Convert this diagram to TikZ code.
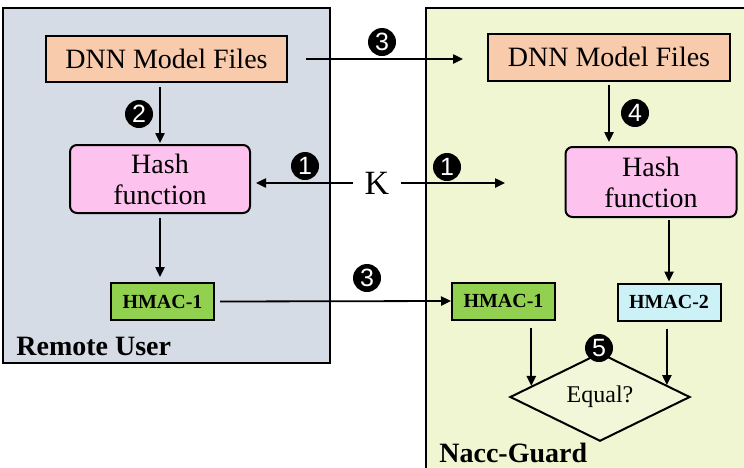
\documentclass[tikz,border=0pt]{standalone}
\usepackage{fontspec}
\setmainfont{LiberationSerif}[Extension=.ttf, UprightFont=*-Regular, BoldFont=*-Bold, ItalicFont=*-Italic]
\newfontfamily\numfont{Liberation Sans}
\usepackage{tikz}
\usetikzlibrary{arrows.meta, positioning, calc, shapes.geometric}
\definecolor{userbg}{HTML}{D6DCE5}
\definecolor{guardbg}{HTML}{F0F6D2}
\definecolor{peach}{HTML}{F8CBAD}
\definecolor{hashpink}{HTML}{FDC3EE}
\definecolor{macgreen}{HTML}{92D050}
\definecolor{maccyan}{HTML}{CCF2F8}
\definecolor{eqfill}{HTML}{F3F7DA}

\begin{document}
\begin{tikzpicture}[x=0.5pt, y=-0.5pt,
  box/.style={draw, line width=1pt, inner sep=0pt, font=\fontsize{14}{15.5}\selectfont, align=center},
  mac/.style={draw, line width=1pt, inner sep=0pt, minimum width=51.5pt, minimum height=18.5pt, font=\fontsize{10}{12}\selectfont\bfseries},
  num/.style={circle, fill=black, text=white, inner sep=0pt, minimum size=14pt, font=\numfont\fontsize{12.5}{13}\selectfont},
  arr/.style={-{Triangle[length=5pt, width=4.6pt]}, line width=0.9pt},
  side/.style={font=\fontsize{14}{16}\selectfont\bfseries, anchor=base west, inner sep=0pt}]
  \clip (0,0) rectangle (744,467);
  % panels
  \filldraw[fill=userbg, line width=1pt] (3,8) rectangle (330,363);
  \filldraw[fill=guardbg, line width=1pt] (426,8) rectangle (760,480);
  % remote user
  \node[box, fill=peach, minimum width=120.5pt, minimum height=23pt] (dnnL) at (166.5,59) {DNN Model Files};
  \node[box, fill=hashpink, rounded corners=3.5pt, minimum width=90pt, minimum height=34pt] (hashL) at (160,179) {Hash\\function};
  \node[mac, fill=macgreen] (macL) at (162.5,301.5) {HMAC-1};
  \node[side] (user) at (16,355) {Remote User};
  % nacc-guard
  \node[box, fill=peach, minimum width=121pt, minimum height=23.5pt] (dnnR) at (609,57) {DNN Model Files};
  \node[box, fill=hashpink, rounded corners=3.5pt, minimum width=85.5pt, minimum height=35pt] (hashR) at (651,182) {Hash\\function};
  \node[mac, fill=macgreen] (macR1) at (503.5,301) {HMAC-1};
  \node[mac, fill=maccyan] (macR2) at (669,302) {HMAC-2};
  \node[diamond, draw, line width=1pt, fill=eqfill, inner sep=0pt, minimum width=90pt, minimum height=34pt, font=\fontsize{12}{14}\selectfont] (eq) at (600,397) {Equal?};
  \node[side] (guard) at (439,462) {Nacc-Guard};
  % key
  \node[inner sep=5.5pt, font=\fontsize{17}{18}\selectfont] (key) at (377,183) {K};
  \coordinate (keyEnd) at (505,183);
  \coordinate (inL) at ($(eq.west)!0.245!(eq.north)$);
  \coordinate (inR) at ($(eq.east)!0.265!(eq.north)$);
  % connectors
  \draw[arr, shorten <=2pt, shorten >=0.5pt] (dnnL.south -| hashL.north) -- (hashL.north);
  \draw[arr, shorten <=2pt, shorten >=2.5pt] (hashL.south) -- (hashL.south |- macL.north);
  \draw[arr, shorten <=9pt, shorten >=12pt] (dnnL.east) -- (dnnL.east -| dnnR.west);
  \draw[arr, shorten >=2.5pt] (key.west) -- (key.west -| hashL.east);
  \draw[arr] (key.east) -- (keyEnd);
  \draw[arr, shorten <=1.5pt, shorten >=2pt] (dnnR.south) -- (dnnR.south |- hashR.north);
  \draw[arr, shorten <=1pt, shorten >=0.5pt] (macR2.north |- hashR.south) -- (macR2.north);
  \draw[arr, shorten <=2.5pt] (macL.east) -- (macR1.west);
  \draw[arr, shorten <=3.5pt] (macR1.south -| inL) -- (inL);
  \draw[arr, shorten <=3.5pt] (macR2.south -| inR) -- (inR);
  % steps
  \node[num] (n1L) at (305,166) {1};
  \node[num] (n1R) at (447,167) {1};
  \node[num] (n2) at (139,114) {2};
  \node[num] (n3a) at (382,42) {3};
  \node[num] (n3b) at (367,278) {3};
  \node[num] (n4) at (635,113) {4};
  \node[num] (n5) at (599,348) {5};
\end{tikzpicture}
\end{document}
